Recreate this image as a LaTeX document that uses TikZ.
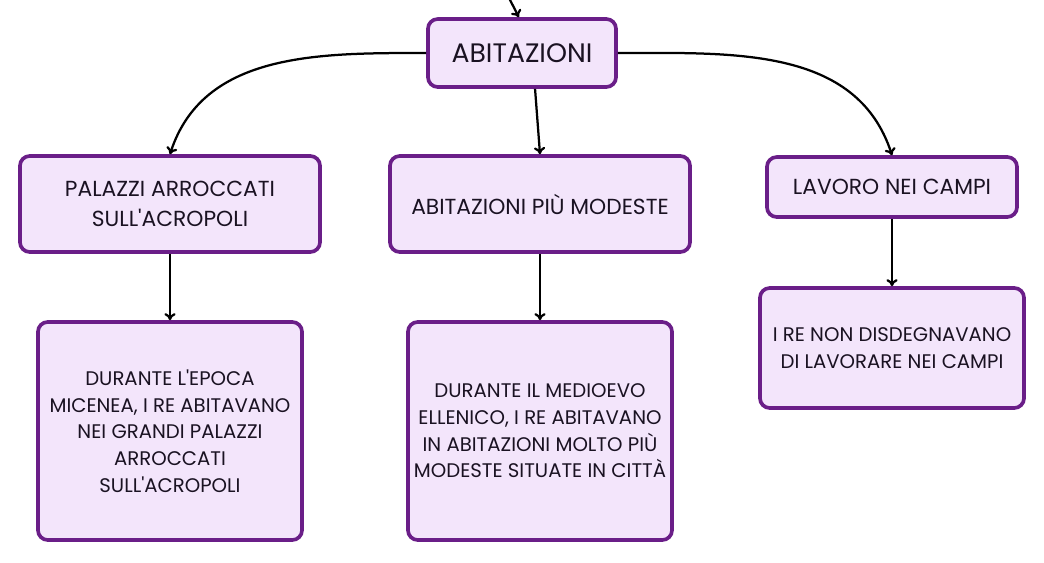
\documentclass[tikz,border=0pt]{standalone}
\usepackage{fontspec}
\setmainfont{Poppins}[Ligatures=TeXOff]
\usetikzlibrary{arrows.meta}
\definecolor{viola}{HTML}{6A1E88}
\definecolor{lilla}{HTML}{F3E5FB}
\definecolor{testo}{HTML}{1A1222}

\begin{document}
\begin{tikzpicture}[x=0.025cm,y=-0.025cm,
		scatola/.style={draw=viola,fill=lilla,line width=2.6pt,rounded corners=7pt,align=center,text=testo,inner sep=2pt},
		titolo/.style={scatola,font=\fontsize{15.5}{21.5}\selectfont},
		nota/.style={scatola,font=\fontsize{14}{19}\selectfont},
		freccia/.style={line width=1.6pt,-{To[length=5pt,width=8pt]}}]
				\useasboundingbox (0,0) rectangle (1044,562);
				\node[scatola,font=\fontsize{19}{22}\selectfont,minimum width=4.7cm,minimum height=1.7cm] (abit) at (522,53) {ABITAZIONI};
				\node[titolo,minimum width=7.5cm,minimum height=2.4cm] (palazzi) at (170,204) {PALAZZI ARROCCATI\\SULL'ACROPOLI};
				\node[titolo,minimum width=7.5cm,minimum height=2.4cm] (modeste) at (540,204) {ABITAZIONI PIÙ MODESTE};
				\node[titolo,minimum width=6.25cm,minimum height=1.5cm] (lavoro) at (892,187) {LAVORO NEI CAMPI};
				\node[nota,minimum width=6.6cm,minimum height=5.45cm] (epoca) at (170,431) {DURANTE L'EPOCA\\MICENEA, I RE ABITAVANO\\NEI GRANDI PALAZZI\\ARROCCATI\\SULL'ACROPOLI};
				\node[nota,minimum width=6.6cm,minimum height=5.45cm] (medioevo) at (540,431) {DURANTE IL MEDIOEVO\\ELLENICO, I RE ABITAVANO\\IN ABITAZIONI MOLTO PIÙ\\MODESTE SITUATE IN CITTÀ};
				\node[nota,minimum width=6.6cm,minimum height=3cm] (campi) at (892,348) {I RE NON DISDEGNAVANO\\DI LAVORARE NEI CAMPI};
				\coordinate (sopra) at (508,-4);
				\draw[freccia] (sopra) -- (abit.95);
				\draw[freccia] (abit.west) to[out=180,in=72] (palazzi.north);
				\draw[freccia] (abit.290) -- (modeste.north);
				\draw[freccia] (abit.east) to[out=0,in=108] (lavoro.north);
				\draw[freccia] (palazzi) -- (epoca);
				\draw[freccia] (modeste) -- (medioevo);
				\draw[freccia] (lavoro) -- (campi);
\end{tikzpicture}
\end{document}
